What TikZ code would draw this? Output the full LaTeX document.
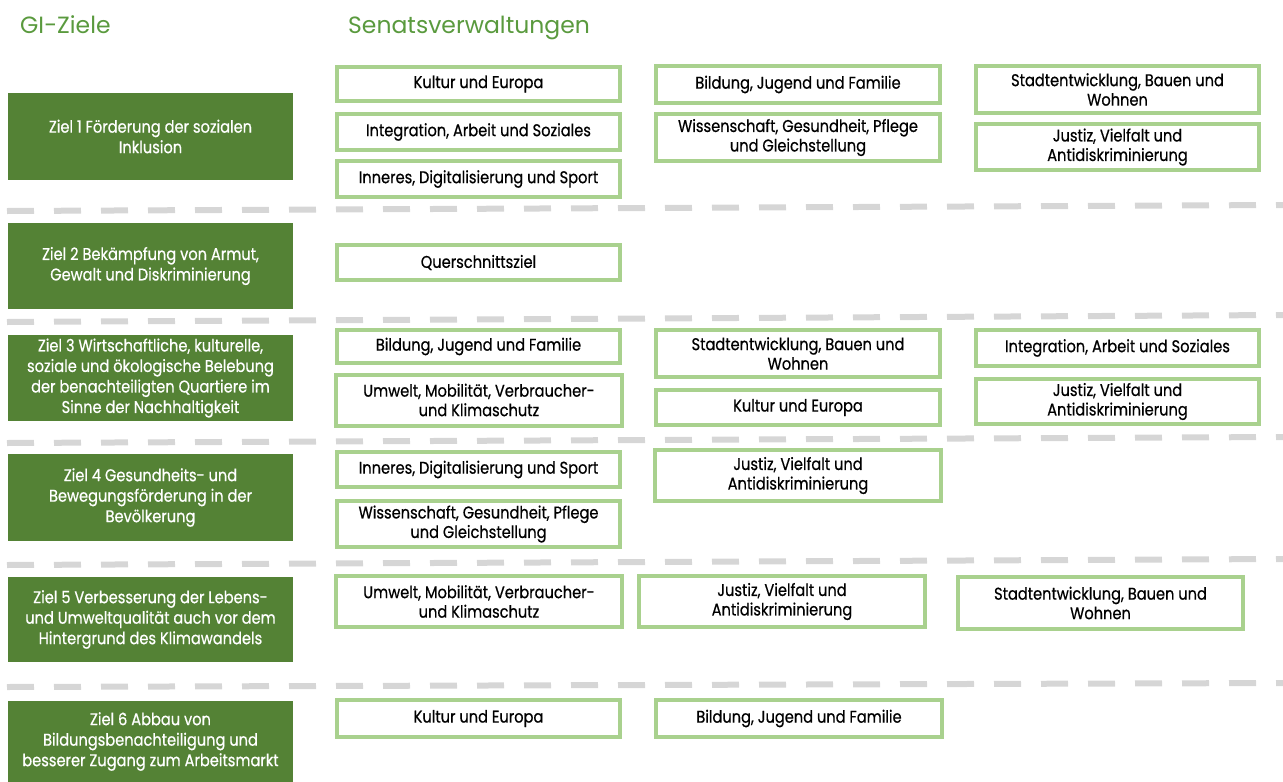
\documentclass[tikz,border=0pt]{standalone}
\usepackage{fontspec}
\setmainfont[FakeStretch=0.86,FakeBold=0.6]{Poppins}
\newfontfamily\titlefont{Poppins}
\definecolor{dkgreen}{HTML}{548235}
\definecolor{lgreen}{HTML}{A9D18E}
\definecolor{ttlgreen}{HTML}{5A9A3E}
\definecolor{dashgray}{HTML}{D6D6D6}
\tikzset{
  sv/.style={draw=lgreen, line width=4pt, fill=white, align=center, inner sep=0pt,
    font=\fontsize{17}{19.5}\selectfont, text=black},
  goal/.style={fill=dkgreen, align=center, inner sep=0pt, minimum width=285pt,
    font=\fontsize{17}{20.5}\selectfont, text=white},
  sep/.style={dashgray, line width=6pt, dash pattern=on 27pt off 20pt},
  ttl/.style={anchor=base west, inner sep=0pt, text=ttlgreen, font=\titlefont\fontsize{23.5}{26}\selectfont}
}
\begin{document}
\begin{tikzpicture}[x=1pt,y=-1pt]
\useasboundingbox (0,0) rectangle (1283,782);
% titles
\node[ttl] (t1) at (20,33) {GI-Ziele};
\node[ttl] (t2) at (348,33) {Senatsverwaltungen};
% separators
\coordinate (s1a) at (7,211); \coordinate (s1b) at (1283,205);
\coordinate (s2a) at (7,322); \coordinate (s2b) at (1283,315);
\coordinate (s3a) at (7,443); \coordinate (s3b) at (1283,437);
\coordinate (s4a) at (7,565); \coordinate (s4b) at (1283,559);
\coordinate (s5a) at (7,687); \coordinate (s5b) at (1283,683);
\draw[sep] (s1a) -- (s1b);
\draw[sep] (s2a) -- (s2b);
\draw[sep] (s3a) -- (s3b);
\draw[sep] (s4a) -- (s4b);
\draw[sep] (s5a) -- (s5b);
% goals
\node[goal, minimum height=87pt] (z1) at (150.5,136.5) {Ziel 1 Förderung der sozialen\\Inklusion};
\node[goal, minimum height=86pt] (z2) at (150.5,266) {Ziel 2 Bekämpfung von Armut,\\Gewalt und Diskriminierung};
\node[goal, minimum height=86pt] (z3) at (150.5,378) {Ziel 3 Wirtschaftliche, kulturelle,\\soziale und ökologische Belebung\\der benachteiligten Quartiere im\\Sinne der Nachhaltigkeit};
\node[goal, minimum height=87pt] (z4) at (150.5,497.5) {Ziel 4 Gesundheits- und\\Bewegungsförderung in der\\Bevölkerung};
\node[goal, minimum height=85pt] (z5) at (150.5,619.5) {Ziel 5 Verbesserung der Lebens-\\und Umweltqualität auch vor dem\\Hintergrund des Klimawandels};
\node[goal, minimum height=81pt] (z6) at (150.5,741.5) {Ziel 6 Abbau von\\Bildungsbenachteiligung und\\besserer Zugang zum Arbeitsmarkt};
% Ziel 1
\node[sv, minimum width=283pt, minimum height=34pt] (a1) at (478.5,84) {Kultur und Europa};
\node[sv, minimum width=283pt, minimum height=36pt] (a2) at (478.5,132) {Integration, Arbeit und Soziales};
\node[sv, minimum width=283pt, minimum height=36pt] (a3) at (478.5,179) {Inneres, Digitalisierung und Sport};
\node[sv, minimum width=284pt, minimum height=37pt] (a4) at (798,84.5) {Bildung, Jugend und Familie};
\node[sv, minimum width=284pt, minimum height=47pt] (a5) at (798,137.5) {Wissenschaft, Gesundheit, Pflege\\und Gleichstellung};
\node[sv, minimum width=283pt, minimum height=47pt] (a6) at (1117.5,89.5) {Stadtentwicklung, Bauen und\\Wohnen};
\node[sv, minimum width=283pt, minimum height=46pt] (a7) at (1117.5,147) {Justiz, Vielfalt und\\Antidiskriminierung};
% Ziel 2
\node[sv, minimum width=283pt, minimum height=35pt] (b1) at (478.5,262.5) {Querschnittsziel};
% Ziel 3
\node[sv, minimum width=283pt, minimum height=33pt] (c1) at (478.5,346.5) {Bildung, Jugend und Familie};
\node[sv, minimum width=286pt, minimum height=51pt] (c2) at (479,400) {Umwelt, Mobilität, Verbraucher-\\und Klimaschutz};
\node[sv, minimum width=284pt, minimum height=47pt] (c3) at (798,353.5) {Stadtentwicklung, Bauen und\\Wohnen};
\node[sv, minimum width=284pt, minimum height=35pt] (c4) at (798,407.5) {Kultur und Europa};
\node[sv, minimum width=283pt, minimum height=36pt] (c5) at (1117.5,348) {Integration, Arbeit und Soziales};
\node[sv, minimum width=283pt, minimum height=45pt] (c6) at (1117.5,401.5) {Justiz, Vielfalt und\\Antidiskriminierung};
% Ziel 4
\node[sv, minimum width=283pt, minimum height=35pt] (d1) at (478.5,469.5) {Inneres, Digitalisierung und Sport};
\node[sv, minimum width=283pt, minimum height=46pt] (d2) at (478.5,524) {Wissenschaft, Gesundheit, Pflege\\und Gleichstellung};
\node[sv, minimum width=286pt, minimum height=51pt] (d3) at (798,475.5) {Justiz, Vielfalt und\\Antidiskriminierung};
% Ziel 5
\node[sv, minimum width=286pt, minimum height=51pt] (e1) at (479,601.5) {Umwelt, Mobilität, Verbraucher-\\und Klimaschutz};
\node[sv, minimum width=286pt, minimum height=51pt] (e2) at (782,601.5) {Justiz, Vielfalt und\\Antidiskriminierung};
\node[sv, minimum width=285pt, minimum height=52pt] (e3) at (1100.5,603) {Stadtentwicklung, Bauen und\\Wohnen};
% Ziel 6
\node[sv, minimum width=283pt, minimum height=37pt] (f1) at (478.5,718.5) {Kultur und Europa};
\node[sv, minimum width=286pt, minimum height=37pt] (f2) at (799,718.5) {Bildung, Jugend und Familie};
\end{tikzpicture}
\end{document}
